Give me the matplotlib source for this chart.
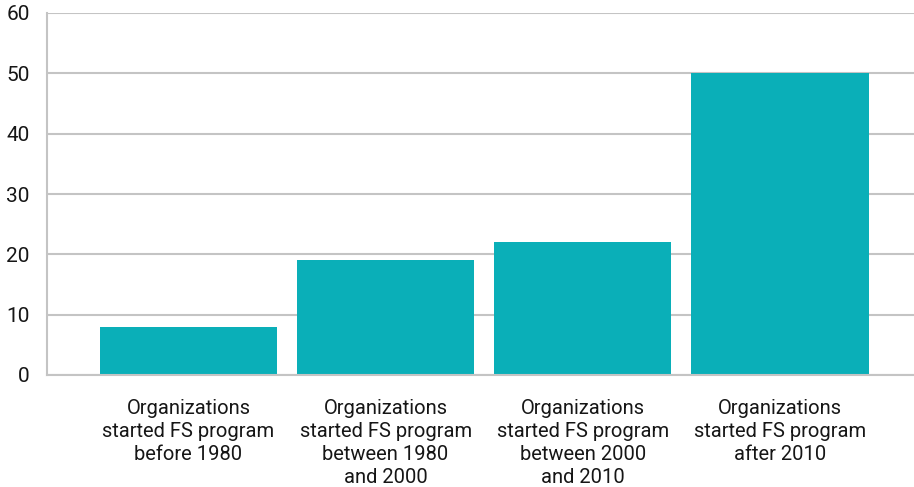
import matplotlib
matplotlib.use('Agg')
import matplotlib.pyplot as plt

categories = ['Organizations\nstarted FS program\nbefore 1980',
              'Organizations\nstarted FS program\nbetween 1980\nand 2000',
              'Organizations\nstarted FS program\nbetween 2000\nand 2010',
              'Organizations\nstarted FS program\nafter 2010']
values = [8, 19, 22, 50]
yticks = [0, 10, 20, 30, 40, 50, 60]

plt.rcParams['font.family'] = ['Roboto', 'DejaVu Sans']

fig = plt.figure(figsize=(9.14, 4.87), dpi=100)
ax = fig.add_axes([46.5 / 914, 112 / 487, 1 - 46.5 / 914, (375 - 13) / 487])

ax.bar(range(len(values)), values, width=0.9, color='#0aafb8', zorder=3)
ax.set_xlim(-0.72, 3.68)
ax.set_ylim(0, 60)
ax.set_yticks(yticks)
ax.set_xticks(range(len(categories)))
ax.set_xticklabels(categories, fontsize=14.5, linespacing=1.27, color='#161616')
ax.tick_params(axis='y', labelsize=15, length=0, pad=12, labelcolor='#161616')
ax.tick_params(axis='x', length=0, pad=17.5)
ax.grid(axis='y', color='#c4c4c4', linewidth=1.5, zorder=0)
for s in ['top', 'right']:
    ax.spines[s].set_visible(False)
for s in ['left', 'bottom']:
    ax.spines[s].set_color('#c4c4c4')
    ax.spines[s].set_linewidth(1.5)
    ax.spines[s].set_zorder(4)

fig.savefig('out.png', dpi=100)
